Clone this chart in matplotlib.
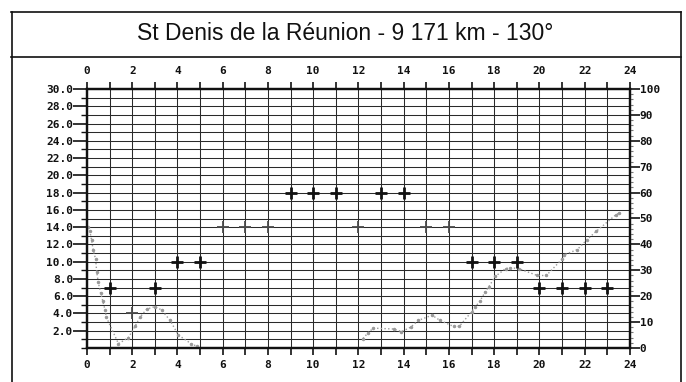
import numpy as np
import matplotlib
matplotlib.use("Agg")
import matplotlib.pyplot as plt
from matplotlib.lines import Line2D
from matplotlib.ticker import MultipleLocator, FixedLocator, FormatStrFormatter

W, H = 686, 382

title = "St Denis de la Réunion - 9 171 km - 130°"

# hourly frequency steps (MHz), bold crosses
bold_hours = [1, 3, 4, 5, 9, 10, 11, 13, 14, 17, 18, 19, 20, 21, 22, 23]
bold_vals = [7, 7, 10, 10, 18, 18, 18, 18, 18, 10, 10, 10, 7, 7, 7, 7]

# lighter crosses
faint_hours = [2, 6, 7, 8, 12, 15, 16]
faint_vals = [4, 14, 14, 14, 14, 14, 14]

# dotted curve, night part
curve_a_hours = [0.05, 0.13, 0.2, 0.28, 0.38, 0.43, 0.5, 0.6, 0.7, 0.8, 0.85,
                 1.39, 1.83, 2.12, 2.35, 2.64, 3.0, 3.3, 3.67, 4.04, 4.6, 4.85]
curve_a_vals = [14.0, 13.5, 12.5, 11.3, 10.3, 8.8, 7.6, 6.4, 5.4, 4.4, 3.6,
                0.5, 1.2, 2.5, 3.6, 4.5, 4.8, 4.4, 3.2, 1.5, 0.5, 0.2]

# dotted curve, afternoon/evening part
curve_b_hours = [12.2, 12.4, 12.65, 13.55, 13.9, 14.3, 14.65, 15.25, 15.6, 16.2,
                 16.45, 17.0, 17.17, 17.36, 17.6, 17.76, 18.05, 18.5, 18.7, 19.08,
                 19.9, 20.3, 21.0, 21.1, 21.67, 22.08, 22.5, 23.36, 23.5]
curve_b_vals = [1.1, 1.7, 2.3, 2.2, 1.9, 2.4, 3.2, 3.8, 3.2, 2.5,
                2.5, 4.2, 4.8, 5.4, 6.5, 7.1, 8.3, 9.2, 9.3, 9.2,
                8.4, 8.4, 10.3, 10.8, 11.4, 12.5, 13.5, 15.4, 15.6]

hour_labels = list(range(0, 25, 2))
left_labels = list(range(2, 31, 2))
right_labels = list(range(0, 101, 10))

tick_font = dict(family="DejaVu Sans Mono", weight="bold", size=8)


def fx(px):
    return px / W


def fy(py):
    return 1 - py / H


fig = plt.figure(figsize=(W / 100, H / 100), dpi=100)
fig.patch.set_facecolor("white")

# frame around the whole thing + title strip
frame = dict(color="#111111", lw=1.2, transform=fig.transFigure)
fig.add_artist(Line2D([fx(11), fx(681)], [fy(12), fy(12)], **frame))
fig.add_artist(Line2D([fx(11), fx(681)], [fy(57), fy(57)], **frame))
fig.add_artist(Line2D([fx(12), fx(12)], [fy(12), fy(382)], **frame))
fig.add_artist(Line2D([fx(681), fx(681)], [fy(12), fy(382)], **frame))
fig.text(fx(345), fy(34), title, ha="center", va="center",
         family="Liberation Sans", fontsize=16.5, color="#111111")

ax = fig.add_axes([fx(87), fy(348), (630 - 87) / W, (348 - 89) / H])
ax.set_xlim(0, 24)
ax.set_ylim(0, 30)

ax.xaxis.set_major_locator(FixedLocator(hour_labels))
ax.xaxis.set_minor_locator(MultipleLocator(1))
ax.yaxis.set_major_locator(FixedLocator(left_labels))
ax.yaxis.set_minor_locator(MultipleLocator(1))
ax.yaxis.set_major_formatter(FormatStrFormatter("%.1f"))

ax.grid(which="both", color="#2a2a2a", lw=0.75)
ax.set_axisbelow(True)
for s in ax.spines.values():
    s.set_linewidth(1.6)
    s.set_color("#111111")

ax.tick_params(axis="x", which="both", top=True, bottom=True,
               labeltop=True, labelbottom=True, direction="out",
               length=5, width=1.2, pad=4, colors="#111111")
ax.tick_params(axis="y", which="major", direction="out", length=10,
               width=1.2, pad=0, colors="#111111")
ax.tick_params(axis="y", which="minor", direction="out", length=4,
               width=1.0, colors="#111111")
for lab in ax.get_xticklabels() + ax.get_yticklabels():
    lab.set_fontproperties(tick_font)

ax2 = ax.twinx()
ax2.set_ylim(0, 100)
ax2.yaxis.set_major_locator(FixedLocator(right_labels))
ax2.yaxis.set_minor_locator(MultipleLocator(2))
ax2.tick_params(axis="y", which="major", direction="out", length=7,
                width=1.2, pad=0, colors="#111111")
ax2.tick_params(axis="y", which="minor", direction="out", length=2,
                width=0.8, colors="#777777")
for lab in ax2.get_yticklabels():
    lab.set_fontproperties(tick_font)
for s in ax2.spines.values():
    s.set_linewidth(1.6)
    s.set_color("#111111")

# dotted curves
for hrs, vals in [(curve_a_hours, curve_a_vals), (curve_b_hours, curve_b_vals)]:
    ax.plot(hrs, vals, ls=":", lw=1.0, color="#9a9a9a",
            marker=".", ms=3, zorder=3, clip_on=False)

ax.plot(faint_hours, faint_vals, ls="none", marker="+", ms=8, mew=1.3,
        color="#4a4a4a", zorder=4)
ax.plot(bold_hours, bold_vals, ls="none", marker="+", ms=9, mew=2.0,
        color="#111111", zorder=5)

fig.savefig("out.png", dpi=100, facecolor="white")
